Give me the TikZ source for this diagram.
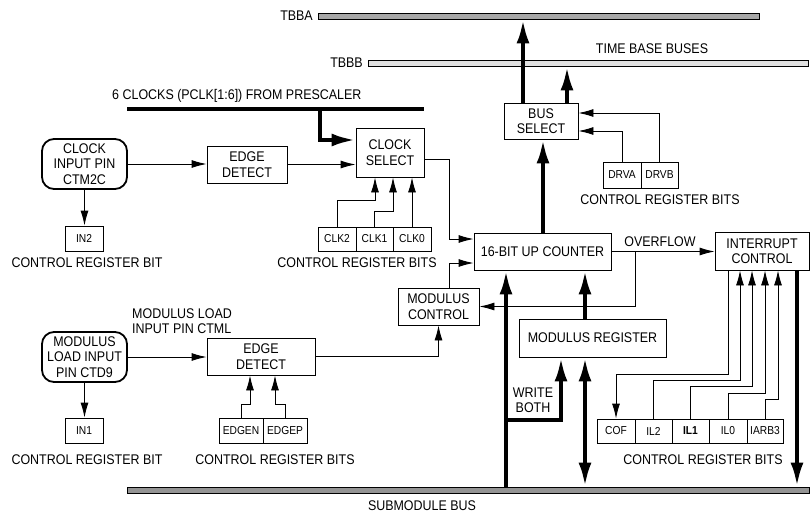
\documentclass[tikz,border=0pt]{standalone}
\usepackage{fontspec}
\setmainfont{Liberation Sans}[FakeStretch=0.89]
\usetikzlibrary{arrows.meta}
\definecolor{busA}{gray}{0.66}
\definecolor{busB}{gray}{0.88}
\definecolor{busS}{gray}{0.58}
\begin{document}
\begin{tikzpicture}[x=1pt,y=-1pt,
  every node/.style={font=\fontsize{14}{15.5}\selectfont, inner sep=0pt},
  blk/.style={draw, line width=0.9pt, align=center},
  pin/.style={draw, line width=1.8pt, rounded corners=12pt, align=center, minimum width=85pt, minimum height=50pt},
  bit/.style={draw, line width=0.9pt, font=\fontsize{11.5}{13}\selectfont, minimum height=25pt},
  bus/.style={draw, line width=0.9pt, minimum height=6pt},
  thn/.style={line width=0.9pt, -{Latex[length=15pt,width=8pt]}},
  thk/.style={line width=4pt, -{Latex[length=24pt,width=13pt]}},
  thkd/.style={line width=4pt, {Latex[length=24pt,width=13pt]}-{Latex[length=24pt,width=13pt]}},
]
\useasboundingbox (0,0) rectangle (810,514);

% buses
\node[bus, fill=busA, minimum width=441pt, anchor=west] (tbba) at (318,16) {};
\node[bus, fill=busB, minimum width=440pt, anchor=west] (tbbb) at (368,63) {};
\node[bus, fill=busS, minimum width=682pt, anchor=west] (sub) at (127,490) {};
\node[anchor=east] (ltbba) at (313,16) {TBBA};
\node[anchor=east] (ltbbb) at (363,63) {TBBB};
\node (ltbs) at (652,49) {TIME BASE BUSES};
\node (lsub) at (422,506) {SUBMODULE BUS};
\node[anchor=base west] (lpre) at (112,99) {6 CLOCKS (PCLK[1:6]) FROM PRESCALER};

% blocks
\node[pin] (pin1) at (84.5,164) {CLOCK\\INPUT PIN\\CTM2C};
\node[blk, minimum width=80pt, minimum height=37pt] (ed1) at (247,164.5) {EDGE\\DETECT};
\node[blk, minimum width=68pt, minimum height=49pt] (cs) at (390,152.5) {CLOCK\\SELECT};
\node[bit, minimum width=38pt] (in2) at (84,238.5) {IN2};
\node[bit, minimum width=38pt, minimum height=24pt] (clk2) at (337,239) {CLK2};
\node[bit, minimum width=37pt, minimum height=24pt] (clk1) at (374.5,239) {CLK1};
\node[bit, minimum width=38pt, minimum height=24pt] (clk0) at (412,239) {CLK0};
\node[blk, minimum width=137pt, minimum height=37pt] (cnt) at (542.5,251.5) {16-BIT UP COUNTER};
\node[blk, minimum width=81pt, minimum height=37pt] (mc) at (438.5,306.5) {MODULUS\\CONTROL};
\node[blk, minimum width=94pt, minimum height=38pt] (ic) at (762,251) {INTERRUPT\\CONTROL};
\node[blk, minimum width=147pt, minimum height=38pt] (mr) at (592.5,338) {MODULUS REGISTER};
\node[blk, minimum width=74pt, minimum height=36pt] (bs) at (541,121) {BUS\\SELECT};
\node[bit, minimum width=38pt, minimum height=26pt] (drva) at (622,175) {DRVA};
\node[bit, minimum width=37pt, minimum height=26pt] (drvb) at (659.5,175) {DRVB};
\node[pin] (pin2) at (84.5,357) {MODULUS\\LOAD INPUT\\PIN CTD9};
\node[blk, minimum width=108pt, minimum height=37pt] (ed2) at (261,356.5) {EDGE\\DETECT};
\node[bit, minimum width=38pt] (in1) at (84,430.5) {IN1};
\node[bit, minimum width=44pt] (edgen) at (241,430.5) {EDGEN};
\node[bit, minimum width=44pt] (edgep) at (285,430.5) {EDGEP};
\node[bit, minimum width=38pt, minimum height=24pt] (cof) at (616,431) {COF};
\node[bit, minimum width=37pt, minimum height=24pt] (il2) at (653.5,431) {IL2};
\node[bit, minimum width=37pt, minimum height=24pt] (il1) at (690.5,431) {\textbf{IL1}};
\node[bit, minimum width=38pt, minimum height=24pt] (il0) at (728,431) {IL0};
\node[bit, minimum width=36pt, minimum height=24pt] (iarb) at (765,431) {IARB3};

% labels
\node (l1) at (87,263) {CONTROL REGISTER BIT};
\node (l2) at (357,263) {CONTROL REGISTER BITS};
\node (l3) at (660,200) {CONTROL REGISTER BITS};
\node (l4) at (87,460) {CONTROL REGISTER BIT};
\node (l5) at (275,460) {CONTROL REGISTER BITS};
\node (l6) at (703,460) {CONTROL REGISTER BITS};
\node[anchor=west, align=left] (lml) at (132,321) {MODULUS LOAD\\INPUT PIN CTML};
\node (lovf) at (660,242) {OVERFLOW};
\node[align=center] (lwb) at (533,400) {WRITE\\BOTH};

% prescaler
\coordinate (preL) at (127,109);
\coordinate (preR) at (424,109);
\coordinate (preT) at (320,109);
\draw[line width=4pt] (preL) -- (preR);
\draw[thk] (preT) |- ([yshift=12.5pt]cs.west);

% thin connectors
\draw[thn] (pin1.east) -- (pin1.east -| ed1.west);
\draw[thn] (ed1.east) -- (ed1.east -| cs.west);
\draw[thn] (pin1.south) -- (pin1.south |- in2.north);
\draw[thn] (clk2.north) -- ++(0,-26) -| ([xshift=-15pt]cs.south);
\draw[thn] (clk1.north) -- ++(0,-15) -| ([xshift=3pt]cs.south);
\draw[thn] (clk0.north) -- (clk0.north |- cs.south);
\draw[thn] ([yshift=-6.5pt]cs.east) -| (449,239) -- ([yshift=12.5pt]cnt.west);
\draw[thn] ([xshift=10.5pt]mc.north) |- ([yshift=-11.5pt]cnt.west);
\draw[thn] (cnt.east) -- (cnt.east -| ic.west);
\coordinate (ovf) at (635,251.5);
\draw[thn] (ovf) |- (mc.east);
\draw[thn] (pin2.east) -- (pin2.east -| ed2.west);
\draw[thn] (pin2.south) -- (pin2.south |- in1.north);
\draw[thn] (ed2.east) -| (mc.south);
\draw[thn] (edgen.north) -- ++(0,-13) -| ([xshift=-11pt]ed2.south);
\draw[thn] (edgep.north) -- ++(0,-13) -| ([xshift=14pt]ed2.south);
\draw[thn] (drva.north) |- ([yshift=-10pt]bs.east);
\draw[thn] (drvb.north) |- ([yshift=8pt]bs.east);
\draw[thn] ([xshift=-34pt]ic.south) -- ++(0,104) -| (cof.north);
\draw[thn] (il2.north) -- ++(0,-38) -| ([xshift=-22pt]ic.south);
\draw[thn] (il1.north) -- ++(0,-32) -| ([xshift=-10pt]ic.south);
\draw[thn] (il0.north) -- ++(0,-25) -| ([xshift=3pt]ic.south);
\draw[thn] (iarb.north) -- ++(0,-19) -| ([xshift=16pt]ic.south);

% thick connectors
\coordinate (icd) at ([xshift=35pt]ic.south);
\draw[thk] (icd) -- (icd |- sub.north);
\coordinate (cntu) at ([xshift=0.5pt]cnt.north);
\draw[thk] (cntu) -- (cntu |- bs.south);
\coordinate (bsa) at ([xshift=-18pt]bs.north);
\draw[thk] (bsa) -- (bsa |- tbba.south);
\coordinate (bsb) at ([xshift=26pt]bs.north);
\draw[thk] (bsb) -- (bsb |- tbbb.south);
\coordinate (a506) at ([xshift=-36.5pt]cnt.south);
\draw[thk] (a506 |- sub.north) -- (a506);
\coordinate (wbL) at (506,420);
\draw[thk] (wbL) -| ([xshift=-31.5pt]mr.south);
\coordinate (a585) at ([xshift=-7.5pt]mr.south);
\draw[thkd] (a585 |- sub.north) -- (a585);
\coordinate (b585) at ([xshift=-7.5pt]mr.north);
\draw[thk] (b585) -- (b585 |- cnt.south);
\end{tikzpicture}
\end{document}
